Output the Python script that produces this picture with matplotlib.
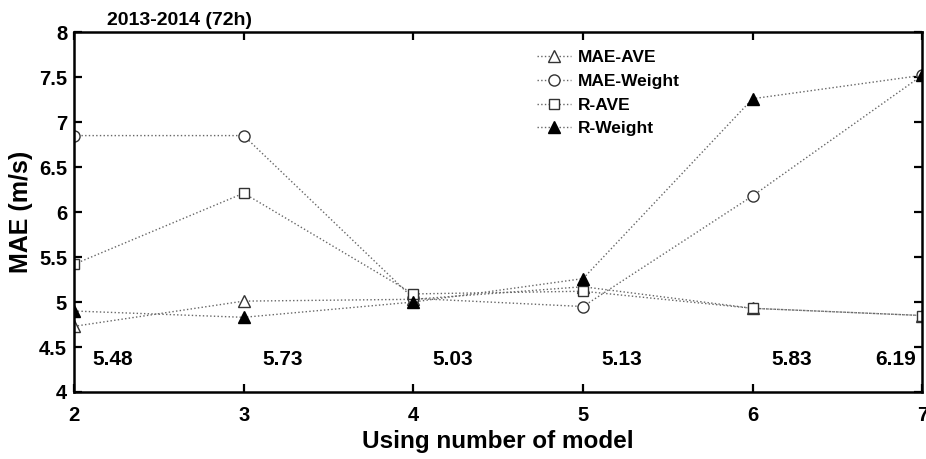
import numpy as np
import matplotlib.pyplot as plt

plt.rcParams['font.family'] = ['Liberation Sans', 'DejaVu Sans']
plt.rcParams['font.weight'] = 'bold'

# number of models used in the ensemble
n_models = [2, 3, 4, 5, 6, 7]

# MAE (m/s) for each weighting scheme
mae_ave = [4.73, 5.01, 5.03, 5.17, 4.93, 4.85]
mae_weight = [6.85, 6.85, 5.04, 4.95, 6.18, 7.52]
r_ave = [5.42, 6.21, 5.09, 5.12, 4.93, 4.85]
r_weight = [4.90, 4.83, 5.00, 5.26, 7.26, 7.52]

# numbers written along the bottom of the plot
bottom_labels = ['5.48', '5.73', '5.03', '5.13', '5.83', '6.19']

fig = plt.figure(figsize=(9.26, 4.59), dpi=100)
ax = fig.add_axes([0.080, 0.146, 0.916, 0.784])

line_kw = dict(linestyle=':', color='#666666', linewidth=1.0)
ax.plot(n_models, mae_ave, marker='^', markersize=8, markerfacecolor='white',
        markeredgecolor='#333333', label='MAE-AVE', **line_kw)
ax.plot(n_models, mae_weight, marker='o', markersize=8, markerfacecolor='white',
        markeredgecolor='#333333', label='MAE-Weight', **line_kw)
ax.plot(n_models, r_ave, marker='s', markersize=7, markerfacecolor='white',
        markeredgecolor='#333333', label='R-AVE', **line_kw)
ax.plot(n_models, r_weight, marker='^', markersize=8, markerfacecolor='black',
        markeredgecolor='black', label='R-Weight', **line_kw)

# labels along the bottom, last one pulled left so it stays inside the box
for i, (xv, txt) in enumerate(zip(n_models, bottom_labels)):
    if i == len(n_models) - 1:
        ax.text(xv - 0.04, 4.36, txt, ha='right', va='center', fontsize=15, fontweight='bold')
    else:
        ax.text(xv + 0.11, 4.36, txt, ha='left', va='center', fontsize=15, fontweight='bold')

ax.set_xlim(2, 7)
ax.set_ylim(4, 8)
ax.set_xticks(n_models)
ax.set_yticks([4, 4.5, 5, 5.5, 6, 6.5, 7, 7.5, 8])
ax.set_yticklabels(['4', '4.5', '5', '5.5', '6', '6.5', '7', '7.5', '8'])
ax.tick_params(direction='in', length=6, width=1.6, top=True, right=True,
               labelsize=14.5)
ax.tick_params(axis='x', pad=10)
ax.tick_params(axis='y', pad=5)
for lab in ax.get_xticklabels() + ax.get_yticklabels():
    lab.set_fontweight('bold')
for sp in ax.spines.values():
    sp.set_linewidth(1.8)

ax.set_xlabel('Using number of model', fontsize=17.5, fontweight='bold', labelpad=4)
ax.set_ylabel('MAE (m/s)', fontsize=18, fontweight='bold', labelpad=4)
ax.set_title('2013-2014 (72h)', fontsize=14, fontweight='bold', loc='left',
             x=0.039, pad=5)

ax.legend(loc='upper left', bbox_to_anchor=(0.535, 0.975), frameon=False,
          handlelength=2.0, handletextpad=0.4, borderpad=0,
          labelspacing=0.5, prop={'weight': 'bold', 'size': 12.5})

fig.savefig('out.png', dpi=100)
